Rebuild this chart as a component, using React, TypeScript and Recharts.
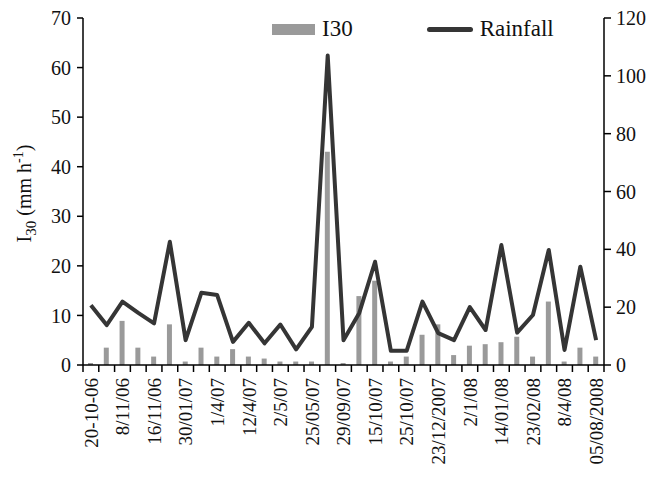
import React from "react";
import {
  ComposedChart,
  Bar,
  Line,
  XAxis,
  YAxis,
  Legend,
} from "recharts";

const FONT = '"Liberation Serif", "Times New Roman", serif';

// every other event date is labelled on the axis
const dateLabels = [
  "20-10-06", "8/11/06", "16/11/06", "30/01/07", "1/4/07", "12/4/07",
  "2/5/07", "25/05/07", "29/09/07", "15/10/07", "25/10/07", "23/12/2007",
  "2/1/08", "14/01/08", "23/02/08", "8/4/08", "05/08/2008",
];

const i30Values = [
  0.4, 3.5, 8.9, 3.5, 1.7, 8.2, 0.7, 3.5, 1.7, 3.2, 1.7, 1.3, 0.7, 0.7, 0.7,
  43, 0.4, 13.9, 17, 0.7, 1.7, 6.1, 8.2, 2, 3.9, 4.2, 4.6, 5.7, 1.7, 12.8, 0.7,
  3.5, 1.7,
];

const rainfallValues = [
  20.7, 13.8, 21.9, 18, 14.4, 42.6, 8.6, 25, 24.2, 8, 14.6, 7.5, 14, 5.4, 13.2,
  107, 8.6, 18, 35.7, 4.9, 4.9, 21.9, 11, 8.6, 20, 12.1, 41.5, 11.2, 17.3, 39.8,
  5.2, 34, 8.6,
];

const leftTicks = [0, 10, 20, 30, 40, 50, 60, 70];
const rightTicks = [0, 20, 40, 60, 80, 100, 120];

const data = i30Values.map((v, i) => ({
  idx: i,
  label: i % 2 === 0 ? dateLabels[i / 2] : "",
  i30: v,
  rainfall: rainfallValues[i],
}));

function DateTick(props: any) {
  const { x, y, payload, index, visibleTicksCount } = props;
  const half = payload && payload.offset ? payload.offset : 7.9;
  const row = data[payload.value] || data[index];
  const isLast = index === (visibleTicksCount ?? data.length) - 1;
  return (
    <g transform={`translate(${x},${y})`}>
      <line x1={-half} y1={0} x2={-half} y2={7} stroke="#000" strokeWidth={1.5} />
      {isLast && (
        <line x1={half} y1={0} x2={half} y2={7} stroke="#000" strokeWidth={1.5} />
      )}
      {row && row.label && (
        <text
          x={0}
          y={0}
          transform="rotate(-90)"
          textAnchor="end"
          dx={-13}
          dy="0.36em"
          fontSize={19}
          fontFamily={FONT}
          fill="#111"
        >
          {row.label}
        </text>
      )}
    </g>
  );
}

function YTitle(props: any) {
  const { viewBox } = props;
  const cx = 24;
  const cy = viewBox ? viewBox.y + viewBox.height / 2 + 2 : 194;
  return (
    <text
      transform={`translate(${cx},${cy}) rotate(-90)`}
      textAnchor="middle"
      dy="0.35em"
      fontSize={20}
      fontFamily={FONT}
      fill="#111"
    >
      I
      <tspan dy={5} fontSize={15}>30</tspan>
      <tspan dy={-5}> (mm h</tspan>
      <tspan dy={-8} fontSize={14}>-1</tspan>
      <tspan dy={8}>)</tspan>
    </text>
  );
}

function ChartLegend(props: any) {
  const { payload } = props;
  return (
    <div
      style={{
        display: "flex",
        alignItems: "center",
        fontFamily: FONT,
        fontSize: 23,
        color: "#111",
        lineHeight: "26px",
      }}
    >
      {(payload || []).map((entry: any) => (
        <div key={entry.value} style={{ display: "flex", alignItems: "center", marginRight: 74 }}>
          {entry.type === "line" ? (
            <div style={{ width: 46, height: 5, borderRadius: 3, background: entry.color, marginRight: 7 }} />
          ) : (
            <div style={{ width: 43, height: 11, background: entry.color, marginRight: 7 }} />
          )}
          <span style={{ fontFamily: FONT }}>{entry.value}</span>
        </div>
      ))}
    </div>
  );
}

export default function App() {
  return (
    <div
      style={{
        position: "absolute",
        left: 0,
        top: 0,
        width: 649,
        height: 481,
        background: "#fff",
        fontFamily: FONT,
      }}
    >
      <ComposedChart
        width={649}
        height={481}
        data={data}
        margin={{ top: 18, right: 0, left: 0, bottom: 0 }}
        style={{ fontFamily: FONT }}
      >
        <XAxis
          dataKey="idx"
          type="category"
          interval={0}
          height={116}
          tickSize={0}
          tickMargin={0}
          tickLine={false}
          axisLine={{ stroke: "#000", strokeWidth: 1.5 }}
          tick={<DateTick />}
        />
        <YAxis
          yAxisId="left"
          domain={[0, 70]}
          ticks={leftTicks}
          interval={0}
          width={83}
          tickSize={6}
          tickMargin={6}
          axisLine={{ stroke: "#000", strokeWidth: 1.5 }}
          tickLine={{ stroke: "#000", strokeWidth: 1.5 }}
          tick={{ fill: "#111", fontSize: 20, fontFamily: FONT }}
          label={<YTitle />}
        />
        <YAxis
          yAxisId="right"
          orientation="right"
          domain={[0, 120]}
          ticks={rightTicks}
          interval={0}
          width={45}
          tickSize={7}
          tickMargin={5}
          axisLine={{ stroke: "#000", strokeWidth: 1.5 }}
          tickLine={{ stroke: "#000", strokeWidth: 1.5 }}
          tick={{ fill: "#111", fontSize: 20, fontFamily: FONT }}
        />
        <Legend
          verticalAlign="middle"
          align="center"
          layout="horizontal"
          content={<ChartLegend />}
          wrapperStyle={{ top: 16, left: 272, width: 370 }}
        />
        <Bar
          yAxisId="left"
          dataKey="i30"
          name="I30"
          fill="#9a9a9a"
          barSize={5}
          legendType="rect"
          isAnimationActive={false}
        />
        <Line
          yAxisId="right"
          dataKey="rainfall"
          name="Rainfall"
          stroke="#353535"
          strokeWidth={4}
          dot={false}
          activeDot={false}
          legendType="line"
          strokeLinejoin="round"
          isAnimationActive={false}
        />
      </ComposedChart>
    </div>
  );
}
